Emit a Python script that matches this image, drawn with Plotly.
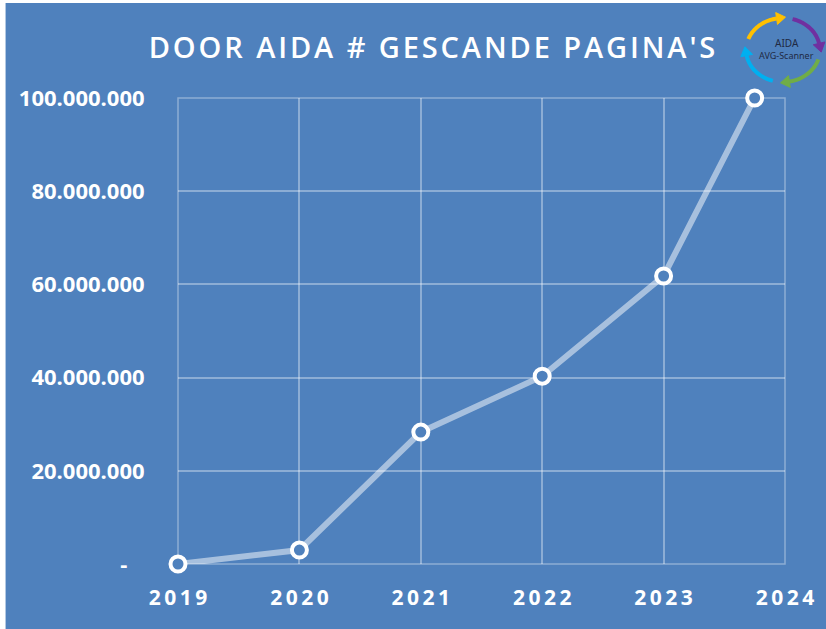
import math
import plotly.graph_objects as go

# ---- data ----
years = [2019, 2020, 2021, 2022, 2023, 2023.75]
pages = [0, 3.0e6, 28.3e6, 40.3e6, 61.8e6, 100.0e6]
x_ticks = [2019, 2020, 2021, 2022, 2023, 2024]
x_labels = ["2019", "2020", "2021", "2022", "2023", "2024"]
y_ticks = [0, 20e6, 40e6, 60e6, 80e6, 100e6]
y_labels = ["-", "20.000.000", "40.000.000", "60.000.000", "80.000.000", "100.000.000"]
title_text = "DOOR AIDA # GESCANDE PAGINA'S"

BLUE = "#4F81BD"
GRID = "rgba(255,255,255,0.35)"
W, H = 826, 629
L, R, T, B = 178, 39, 98, 65
PW, PH = W - L - R, H - T - B


def px(xp):
    return (xp - L) / PW


def py(yp):
    return (H - B - yp) / PH


def spaced(s, sp="\u2009"):
    return sp.join(list(s))


fig = go.Figure()
fig.add_trace(go.Scatter(
    x=years, y=pages, mode="lines+markers",
    line=dict(color="rgba(255,255,255,0.5)", width=6),
    marker=dict(size=15, color=BLUE, line=dict(color="white", width=4)),
    cliponaxis=False, hoverinfo="skip", showlegend=False,
))

shapes = []
# frame of the plot area (edge gridlines)
shapes.append(dict(type="rect", xref="paper", yref="paper", x0=0, x1=1, y0=0, y1=1,
                   line=dict(color=GRID, width=1.5), layer="below"))
# white border strips at left and top edges
shapes.append(dict(type="rect", xref="paper", yref="paper", x0=px(-5), x1=px(5),
                   y0=py(H + 5), y1=py(-5), fillcolor="white", line_width=0, layer="above"))
shapes.append(dict(type="rect", xref="paper", yref="paper", x0=px(-5), x1=px(W + 5),
                   y0=py(3), y1=py(-5), fillcolor="white", line_width=0, layer="above"))

# logo arcs
cx, cy, rx, ry = 785, 50, 37, 32
arcs = [(160, 100, "#FFC000"), (75, 12, "#7030A0"), (-17, -80, "#70AD47"), (-106, -170, "#00B0F0")]
for a0, a1, col in arcs:
    n = 30
    pts = []
    for i in range(n + 1):
        a = math.radians(a0 + (a1 - a0) * i / n)
        pts.append((cx + rx * math.cos(a), cy - ry * math.sin(a)))
    path = "M " + " L ".join(f"{px(x):.5f},{py(y):.5f}" for x, y in pts)
    shapes.append(dict(type="path", xref="paper", yref="paper", path=path,
                       line=dict(color=col, width=4), layer="above"))
    th = math.radians(a1)
    ex, ey = cx + rx * math.cos(th), cy - ry * math.sin(th)
    tx, ty = rx * math.sin(th), ry * math.cos(th)
    nrm = math.hypot(tx, ty)
    tx, ty = tx / nrm, ty / nrm
    nx, ny = -ty, tx
    tip = (ex + tx * 9, ey + ty * 9)
    b1 = (ex + nx * 6, ey + ny * 6)
    b2 = (ex - nx * 6, ey - ny * 6)
    tri = f"M {px(tip[0]):.5f},{py(tip[1]):.5f} L {px(b1[0]):.5f},{py(b1[1]):.5f} L {px(b2[0]):.5f},{py(b2[1]):.5f} Z"
    shapes.append(dict(type="path", xref="paper", yref="paper", path=tri,
                       fillcolor=col, line=dict(color=col, width=1), layer="above"))

annotations = [
    dict(text="AIDA", x=px(789), y=py(43), xref="paper", yref="paper", showarrow=False,
         font=dict(family="Noto Sans", size=10, color="#1F2A44"), xanchor="center", yanchor="middle"),
    dict(text="AVG-Scanner", x=px(789), y=py(55), xref="paper", yref="paper", showarrow=False,
         font=dict(family="Liberation Sans Narrow, Noto Sans", size=9, color="#1F2A44"),
         xanchor="center", yanchor="middle"),
]

fig.update_layout(
    width=W, height=H,
    margin=dict(l=L, r=R, t=T, b=B, pad=0),
    paper_bgcolor=BLUE, plot_bgcolor=BLUE,
    title=dict(text=spaced(title_text, "\u200a"), x=432 / W, xanchor="center",
               y=1 - 48 / H, yanchor="middle", yref="container",
               font=dict(family="Open Sans", size=29, color="white", weight=600)),
    shapes=shapes, annotations=annotations,
    xaxis=dict(range=[2019, 2024], tickvals=x_ticks, ticktext=[spaced(s) for s in x_labels],
               showgrid=True, gridcolor=GRID, gridwidth=1.5,
               zeroline=False, showline=False, ticks="outside", ticklen=15,
               tickcolor="rgba(0,0,0,0)", fixedrange=True,
               tickfont=dict(family="Open Sans", size=21, color="white", weight="bold")),
    yaxis=dict(range=[0, 100e6], tickvals=y_ticks,
               ticktext=["-\u00a0\u00a0\u00a0"] + y_labels[1:],
               showgrid=True, gridcolor=GRID, gridwidth=1.5,
               zeroline=False, showline=False, ticks="outside", ticklen=28,
               tickcolor="rgba(0,0,0,0)", fixedrange=True,
               tickfont=dict(family="Open Sans", size=22, color="white", weight="bold")),
)

fig.write_html("out.html", config={"displayModeBar": False},
               post_script="document.body.style.margin='0px';")
